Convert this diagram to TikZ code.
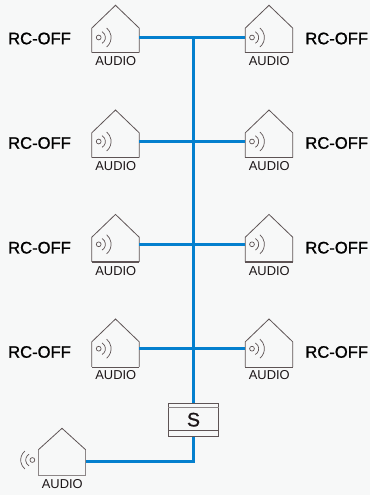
\documentclass[tikz,border=0pt]{standalone}
\usepackage{fontspec}
\setmainfont{Liberation Sans}
\newfontfamily\medfont[FakeBold=1.1]{Liberation Sans}
\definecolor{bgc}{HTML}{F7F8F8}
\definecolor{busc}{HTML}{0480CE}
\definecolor{linec}{HTML}{5E5455}
\definecolor{greyc}{HTML}{8C8687}
\definecolor{textc}{HTML}{1C1618}
\tikzset{
  bus/.style={draw=busc,line width=2.9pt},
  busthin/.style={draw=busc,line width=2.7pt},
  hbody/.style={rectangle,inner sep=0pt,minimum width=47pt},
  hline/.style={draw=linec,line width=0.8pt,line join=miter},
  wave/.style={draw=linec,line width=0.7pt},
  dot/.style={circle,draw=linec,line width=0.7pt,inner sep=0pt,minimum size=4.8pt},
  rcoff/.style={inner sep=0pt,text=black,font=\fontsize{16.6}{18}\selectfont\medfont},
  audio/.style={inner sep=0pt,text=textc,font=\fontsize{12.9}{14}\selectfont},
}
\begin{document}
\begin{tikzpicture}[x=1pt,y=-1pt]
\useasboundingbox (0,0) rectangle (370,495);
\fill[bgc] (0,0) rectangle (370,495);
% rows: index / apex y / eave y / bottom y / bus y / label y / audio y / bottom width
\foreach \i/\ya/\ye/\yb/\yl/\yt/\yu/\bw in {
  1/5.3/28/52.4/37.5/38.5/61.5/1.3,
  2/110/32.5/157.3/141.5/143/166/0.8,
  3/214.4/37/261.7/244.3/247.7/270.8/1.3,
  4/319/41.5/366.7/348.7/352/375/0.8}{
  \pgfmathsetmacro{\ey}{\ya+23}
  \pgfmathsetmacro{\cy}{(\ey+\yb)/2}
  \pgfmathsetmacro{\hh}{\yb-\ey}
  % left house
  \node[hbody,minimum height=\hh pt] (L\i) at (115.5,\cy) {};
  \coordinate (La\i) at (115.5,\ya);
  \draw[hline] (L\i.south west) -- (L\i.north west) -- (La\i) -- (L\i.north east) -- (L\i.south east);
  \draw[draw=linec,line width=\bw pt] (L\i.south west) -- (L\i.south east);
  \node[dot] (Ld\i) at (98.7,\yl) {};
  \draw[wave] ([shift={(-60:6.7pt)}]Ld\i.center) arc[start angle=-60,end angle=60,radius=6.7pt];
  \draw[wave] ([shift={(-50:12.4pt)}]Ld\i.center) arc[start angle=-50,end angle=50,radius=12.4pt];
  \node[audio] (La\i t) at (115.8,\yu) {AUDIO};
  \node[rcoff] (Lt\i) at (39.5,\yt) {RC-OFF};
  % right house
  \node[hbody,minimum height=\hh pt] (R\i) at (269,\cy) {};
  \coordinate (Ra\i) at (269,\ya);
  \draw[hline] (R\i.south west) -- (R\i.north west) -- (Ra\i) -- (R\i.north east) -- (R\i.south east);
  \draw[draw=linec,line width=\bw pt] (R\i.south west) -- (R\i.south east);
  \node[dot] (Rd\i) at (252,\yl) {};
  \draw[wave] ([shift={(-60:6.7pt)}]Rd\i.center) arc[start angle=-60,end angle=60,radius=6.7pt];
  \draw[wave] ([shift={(-50:12.4pt)}]Rd\i.center) arc[start angle=-50,end angle=50,radius=12.4pt];
  \node[audio] (Ra\i t) at (269.3,\yu) {AUDIO};
  \node[rcoff] (Rt\i) at (336.7,\yt) {RC-OFF};
  % connectors
  \coordinate (Lp\i) at (L\i.east |- Ld\i);
  \coordinate (Rp\i) at (R\i.west |- Rd\i);
  \draw[busthin] (Lp\i) -- (Rp\i);
}
% switch
\node[rectangle,draw=linec,line width=0.8pt,inner sep=0pt,minimum width=50pt,minimum height=32.8pt,fill=bgc] (S) at (193.5,419.7) {};
\draw[draw=greyc,line width=1.1pt] ([yshift=-5pt]S.north west) -- ([yshift=-5pt]S.north east);
\draw[draw=linec,line width=0.8pt] ([yshift=6pt]S.south west) -- ([yshift=6pt]S.south east);
\node[inner sep=0pt,text=textc,font=\fontsize{19.5}{22}\selectfont\medfont] (St) at (S.center) {S};
% bottom house
\node[hbody,minimum height=25pt] (B) at (62,462.5) {};
\coordinate (Ba) at (62,428.3);
\draw[hline] (B.north west) -- (Ba) -- (B.north east);
\draw[draw=greyc,line width=1.2pt] (B.north west) -- (B.south west) -- (B.south east) -- (B.north east);
\node[dot] (Bd) at (32.4,460) {};
\draw[wave] ([shift={(120:6.7pt)}]Bd.center) arc[start angle=120,end angle=240,radius=6.7pt];
\draw[wave] ([shift={(130:11.7pt)}]Bd.center) arc[start angle=130,end angle=230,radius=11.7pt];
\node[audio] (Bt) at (62.3,483.6) {AUDIO};
% bus
\coordinate (Btop) at (193,37.5);
\coordinate (Bp) at (B.east |- 0,461.3);
\draw[bus] (Btop -| S.north) -- (S.north);
\draw[bus,line join=miter] (S.south) |- (Bp);
\end{tikzpicture}
\end{document}
